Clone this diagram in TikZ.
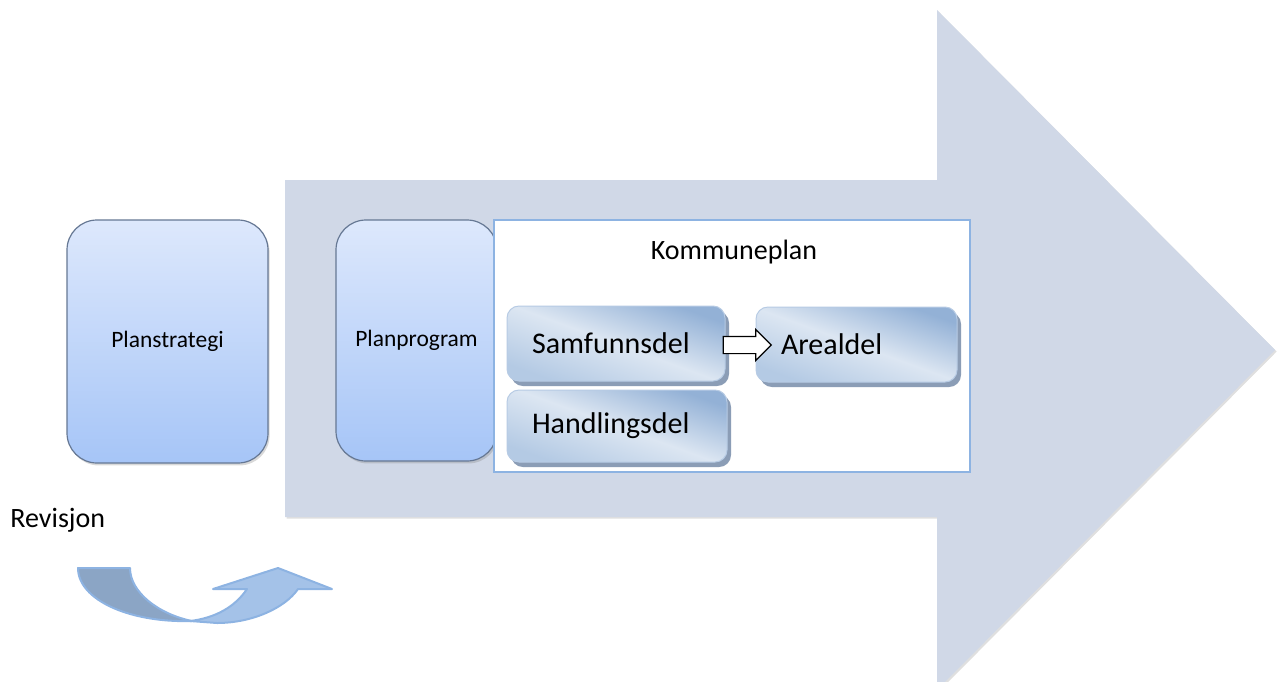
\documentclass[tikz,border=0pt]{standalone}
\usepackage{fontspec}
\setmainfont{Carlito}
\usetikzlibrary{shadows,shapes.arrows}
\definecolor{arrowbg}{HTML}{D0D8E7}
\definecolor{boxtop}{HTML}{DDE8FC}
\definecolor{boxbot}{HTML}{A6C5F7}
\definecolor{boxline}{HTML}{667894}
\definecolor{intop}{HTML}{93B1D6}
\definecolor{inmid}{HTML}{DCE6F2}
\definecolor{inbot}{HTML}{B4CAE4}
\definecolor{inline}{HTML}{B7CBE4}
\definecolor{inshadow}{HTML}{8B9DB6}
\definecolor{kpline}{HTML}{8DB3E2}
\definecolor{curvedark}{HTML}{8BA5C5}
\definecolor{curvelight}{HTML}{A4C2E8}
\begin{document}
\begin{tikzpicture}[x=0.5pt,y=-0.5pt,
  bigbox/.style={draw=boxline, line width=0.6pt, rounded corners=15pt,
    top color=boxtop, bottom color=boxbot, font=\fontsize{11.75}{14}\selectfont,
    drop shadow={opacity=0.3, shadow xshift=0.8pt, shadow yshift=-1.2pt}},
  inbox/.style={draw=inline, line width=0.5pt, rounded corners=6pt,
    top color=intop, bottom color=inbot, middle color=inmid, shading angle=-20,
    general shadow={fill=inshadow, shadow xshift=2pt, shadow yshift=-2.5pt},
    font=\fontsize{15}{18}\selectfont, align=left, inner xsep=12.5pt,
    minimum height=37.5pt},
  kpframe/.style={draw=kpline, line width=1pt, fill=white},
  blockarrow/.style={single arrow, draw=black, line width=0.6pt, fill=white,
    minimum height=24pt, inner xsep=0pt, inner ysep=4pt,
    single arrow head extend=3.5pt},
  curveedge/.style={draw=kpline, line width=1pt, line join=round}
]
\useasboundingbox (0,0) rectangle (1283,681);

% big background arrow
\fill[arrowbg, drop shadow={opacity=0.25, shadow xshift=0.8pt, shadow yshift=-0.8pt}]
  (285,180) -- (937,180) -- (937,10) -- (1275,350) -- (937,690) -- (937,517) -- (285,517) -- cycle;

% Planstrategi and Planprogram
\node[bigbox, minimum width=100.5pt, minimum height=121.5pt] (ps) at (167.5,341.5) {Planstrategi};
\node[bigbox, minimum width=80.5pt, minimum height=120.5pt] (pp) at (416.5,340.5) {Planprogram};

% Kommuneplan frame
\node[kpframe, minimum width=238pt, minimum height=126pt] (kp) at (732,346) {};
\node[font=\fontsize{14}{17}\selectfont, anchor=base] (kpt) at (734,259) {Kommuneplan};

% inner boxes
\node[inbox, text width=84pt, minimum height=37.5pt] (samf) at (616,343.5) {Samfunnsdel};
\node[inbox, text width=75.5pt, minimum height=37.5pt] (areal) at (856.5,344.5) {Arealdel};
\node[inbox, text width=85pt, minimum height=36pt] (handl) at (617,426) {Handlingsdel};

% white block arrow between Samfunnsdel and Arealdel
\node[blockarrow] (sa) at (743,345) {};

% Revisjon
\node[font=\fontsize{14}{17}\selectfont, anchor=west, inner sep=0pt] (rev) at (10,520) {Revisjon};

% curved arrow
\path[fill=curvedark, curveedge]
  (78,568) -- (130,568) .. controls (130,592) and (158,614) .. (192,621)
  .. controls (130,623) and (78,600) .. (78,568) -- cycle;
\path[fill=curvelight, curveedge]
  (190,621) -- (217,623) .. controls (252,623) and (285,608) .. (298,589)
  -- (332,589) -- (278,568) -- (213,589) -- (247,589)
  .. controls (235,607) and (215,618) .. (190,621) -- cycle;
\end{tikzpicture}
\end{document}
